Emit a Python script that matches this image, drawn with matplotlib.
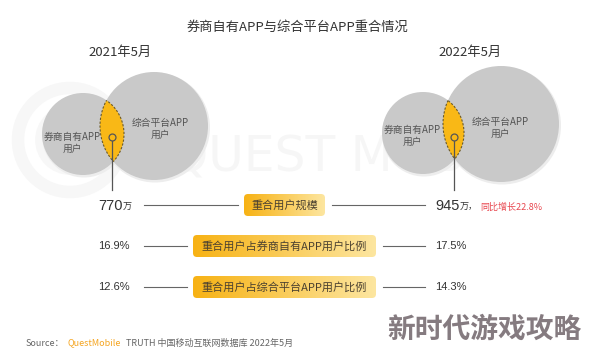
import numpy as np
import matplotlib.pyplot as plt
from matplotlib.patches import Circle, FancyBboxPatch

plt.rcParams['font.family'] = ['Noto Sans CJK SC', 'DejaVu Sans']
num_font = ['Liberation Sans', 'Noto Sans CJK SC']

title = '券商自有APP与综合平台APP重合情况'
periods = ['2021年5月', '2022年5月']
overlap_users = [770, 945]          # 万
share_of_broker = [16.9, 17.5]      # %
share_of_platform = [12.6, 14.3]    # %
growth = 22.8
row_labels = ['重合用户规模', '重合用户占券商自有APP用户比例', '重合用户占综合平台APP用户比例']
small_label = '券商自有APP\n用户'
big_label = '综合平台APP\n用户'

fig = plt.figure(figsize=(5.94, 3.55), dpi=100)
ax = fig.add_axes([0, 0, 1, 1])
ax.set_xlim(0, 594)
ax.set_ylim(355, 0)
ax.axis('off')

# faint watermark
ax.add_patch(Circle((70, 140), 52, fill=False, ec='#f7f7f7', lw=9, zorder=0))
ax.add_patch(Circle((70, 140), 30, fill=False, ec='#f7f7f7', lw=7, zorder=0))
ax.text(170, 158, 'QUEST MOBILE', fontsize=35, color='#f6f6f6',
        ha='left', va='center', family='DejaVu Sans', zorder=0)

ax.text(297, 27, title, fontsize=9.5, color='#333333', ha='center', va='center')

# venn layout: (small centre, r), (big centre, r), dot, label positions
venns = [
    dict(sc=(83, 134), sr=41, bc=(154, 126), br=54, dot=(112, 137), tx=120,
         sl=(72, 143), bl=(160, 129)),
    dict(sc=(423, 133), sr=41, bc=(501, 124), br=58, dot=(454, 137), tx=470,
         sl=(412, 136), bl=(500, 128)),
]
grey = '#c9c9c9'
for v, per in zip(venns, periods):
    ax.text(v['tx'], 52, per, fontsize=9.5, color='#333333', ha='center', va='center')
    # soft shadow
    for c, r in [(v['sc'], v['sr']), (v['bc'], v['br'])]:
        ax.add_patch(Circle((c[0] + 1, c[1] + 1.5), r + 1, fc='#ededed', ec='none', zorder=1))
    small = Circle(v['sc'], v['sr'], fc=grey, ec='none', zorder=2)
    big = Circle(v['bc'], v['br'], fc=grey, ec='none', zorder=2)
    ax.add_patch(small)
    ax.add_patch(big)
    # lens = intersection
    clip_big = Circle(v['bc'], v['br'], transform=ax.transData)
    clip_small = Circle(v['sc'], v['sr'], transform=ax.transData)
    lens = Circle(v['sc'], v['sr'], fc='#f9b816', ec='#6b5a2a', lw=0.8, ls=(0, (2, 1.5)), zorder=3)
    ax.add_patch(lens)
    lens.set_clip_path(clip_big)
    edge = Circle(v['bc'], v['br'], fill=False, ec='#6b5a2a', lw=0.8, ls=(0, (2, 1.5)), zorder=3)
    ax.add_patch(edge)
    edge.set_clip_path(clip_small)
    ax.text(*v['sl'], small_label, fontsize=7, color='#555555', ha='center', va='center',
            linespacing=1.25, zorder=4)
    ax.text(*v['bl'], big_label, fontsize=7, color='#555555', ha='center', va='center',
            linespacing=1.25, zorder=4)
    ax.plot([v['dot'][0], v['dot'][0]], [v['dot'][1] + 3, 190], color='#555555', lw=0.9, zorder=4)
    ax.plot(*v['dot'], marker='o', ms=5, mfc='#f9b816', mec='#555555', mew=0.9, zorder=5)

# rows
row_y = [205, 246, 287]
box_x = [(244, 325), (193, 376), (193, 376)]
left_x, right_x = 98, 435


def grad_box(x0, x1, yc, h=22):
    patch = FancyBboxPatch((x0, yc - h / 2), x1 - x0, h, boxstyle='round,pad=0,rounding_size=4',
                           fc='none', ec='none', zorder=3)
    ax.add_patch(patch)
    c0 = np.array([247, 178, 20]) / 255
    c1 = np.array([253, 230, 160]) / 255
    t = np.linspace(0, 1, 200)[None, :, None]
    img = c0 + (c1 - c0) * t
    im = ax.imshow(img, extent=(x0, x1, yc + h / 2, yc - h / 2), aspect='auto', zorder=3,
                   interpolation='bilinear')
    im.set_clip_path(patch)


for i, (y, (x0, x1), lab) in enumerate(zip(row_y, box_x, row_labels)):
    grad_box(x0, x1, y)
    ax.text((x0 + x1) / 2, y, lab, fontsize=8, color='#4a4030', ha='center', va='center', zorder=4)
    ax.plot([144, x0 - 6], [y, y], color='#666666', lw=0.8)
    ax.plot([x1 + 7, 425], [y, y], color='#666666', lw=0.8)

# values
ax.text(left_x, 206, str(overlap_users[0]), fontsize=10.5, color='#333333', ha='left', va='center',
        family=num_font)
ax.text(left_x + 25, 207.5, '万', fontsize=6.5, color='#333333', ha='left', va='center')
ax.text(right_x, 206, str(overlap_users[1]), fontsize=10.5, color='#333333', ha='left', va='center',
        family=num_font)
ax.text(right_x + 25, 207.5, '万，', fontsize=6.5, color='#333333', ha='left', va='center')
ax.text(480, 207, f'同比增长{growth}%', fontsize=6.5, color='#e8474f', ha='left', va='center')
for y, vals in zip(row_y[1:], [share_of_broker, share_of_platform]):
    ax.text(left_x, y, f'{vals[0]}%', fontsize=8, color='#333333', ha='left', va='center',
            family=num_font)
    ax.text(right_x, y, f'{vals[1]}%', fontsize=8, color='#333333', ha='left', va='center',
            family=num_font)

# source line
ax.text(26, 343, 'Source：', fontsize=6.5, color='#666666', ha='left', va='center')
ax.text(67, 343, 'QuestMobile', fontsize=6.5, color='#f5a623', ha='left', va='center')
ax.text(126, 343, 'TRUTH 中国移动互联网数据库 2022年5月', fontsize=6.5, color='#666666',
        ha='left', va='center')

ax.text(484, 330, '新时代游戏攻略', fontsize=20, color='#857b80', ha='center', va='center',
        fontweight='black')

fig.savefig('out.png', dpi=100, facecolor='white')
